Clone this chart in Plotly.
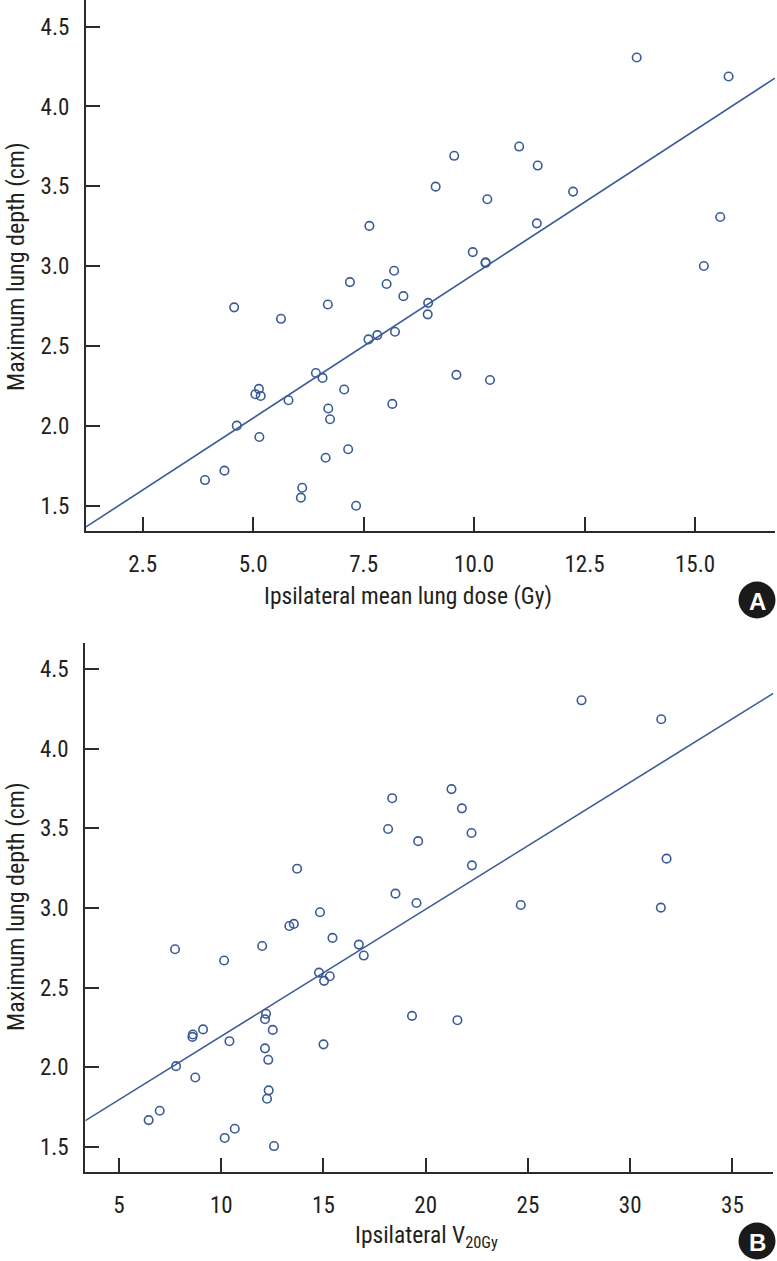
import plotly.graph_objects as go

# ---------------- data ----------------
# Panel A: ipsilateral mean lung dose (Gy) vs maximum lung depth (cm)
mld_gy = [13.68, 15.76, 11.02, 9.55, 11.44, 9.13, 12.24, 10.30, 15.57, 11.42,
          9.97, 10.26, 10.26, 15.20, 8.19, 8.02, 8.40, 8.96, 7.63, 7.19,
          4.57, 5.63, 6.69, 7.61, 7.81, 8.21, 6.42, 6.57, 7.06, 5.13,
          5.05, 5.17, 5.80, 6.70, 6.74, 8.15, 4.63, 5.14, 6.64, 7.15,
          3.91, 4.35, 6.11, 6.08, 7.33, 8.95, 9.60, 10.36]
depth_a = [4.307, 4.188, 3.749, 3.691, 3.630, 3.498, 3.467, 3.419, 3.308, 3.268,
           3.088, 3.024, 3.020, 3.001, 2.971, 2.888, 2.812, 2.770, 3.252, 2.900,
           2.742, 2.670, 2.760, 2.541, 2.568, 2.589, 2.331, 2.300, 2.227, 2.231,
           2.198, 2.187, 2.160, 2.108, 2.041, 2.137, 2.001, 1.930, 1.800, 1.853,
           1.660, 1.719, 1.612, 1.550, 1.499, 2.698, 2.319, 2.287]

# Panel B: ipsilateral V20Gy vs maximum lung depth (cm)
v20 = [27.62, 31.52, 21.26, 18.36, 21.77, 18.16, 22.24, 19.63, 31.78, 22.26,
       13.71, 18.52, 19.55, 24.65, 31.50, 14.83, 13.33, 13.55, 15.44, 7.74,
       12.00, 10.14, 16.73, 16.97, 14.78, 15.31, 15.03, 12.19, 12.14, 12.52,
       8.61, 8.59, 9.11, 10.40, 12.14, 12.30, 15.00, 7.79, 8.73, 12.32,
       12.24, 6.45, 6.99, 10.17, 10.66, 12.58, 19.33, 21.55]
depth_b = [4.305, 4.186, 3.747, 3.690, 3.626, 3.496, 3.471, 3.420, 3.310, 3.268,
           3.247, 3.090, 3.031, 3.019, 3.002, 2.973, 2.887, 2.900, 2.812, 2.741,
           2.761, 2.670, 2.770, 2.701, 2.594, 2.571, 2.542, 2.335, 2.301, 2.234,
           2.205, 2.190, 2.237, 2.163, 2.118, 2.046, 2.143, 2.006, 1.935, 1.854,
           1.801, 1.667, 1.726, 1.555, 1.613, 1.504, 2.322, 2.295]

# Regression lines (slope, intercept)
fit_a = (0.1803, 1.147)
fit_b = (0.0798, 1.396)

# Axis ranges and ticks
xrange_a = [1.217, 16.81]
xrange_b = [3.351, 37.0]
yrange = [1.341, 4.667]
xticks_a = [2.5, 5.0, 7.5, 10.0, 12.5, 15.0]
xticks_b = [5, 10, 15, 20, 25, 30, 35]
yticks = [1.5, 2.0, 2.5, 3.0, 3.5, 4.0, 4.5]

xtitle_a = "Ipsilateral mean lung dose (Gy)"
xtitle_b = "Ipsilateral V<sub>20Gy</sub>"
ytitle = "Maximum lung depth (cm)"

# ---------------- styling ----------------
W, H = 777, 1261
FONT = "Roboto Condensed, Liberation Sans Narrow, Arial Narrow, Liberation Sans, Arial, sans-serif"
BLUE = "#3b5b98"
AX = "#2b2b2b"
TXT = "#231f20"

fig = go.Figure()

marker = dict(symbol="circle-open", size=8.5, color=BLUE, line=dict(width=1.6, color=BLUE))

fig.add_trace(go.Scatter(x=mld_gy, y=depth_a, mode="markers", marker=marker,
                         xaxis="x", yaxis="y", showlegend=False, cliponaxis=False))
fig.add_trace(go.Scatter(x=xrange_a, y=[fit_a[0] * v + fit_a[1] for v in xrange_a],
                         mode="lines", line=dict(color=BLUE, width=1.6),
                         xaxis="x", yaxis="y", showlegend=False))
fig.add_trace(go.Scatter(x=v20, y=depth_b, mode="markers", marker=marker,
                         xaxis="x2", yaxis="y2", showlegend=False, cliponaxis=False))
fig.add_trace(go.Scatter(x=xrange_b, y=[fit_b[0] * v + fit_b[1] for v in xrange_b],
                         mode="lines", line=dict(color=BLUE, width=1.6),
                         xaxis="x2", yaxis="y2", showlegend=False))

def px_x(p):
    return p / W

def px_y(p):
    return 1 - p / H

common_x = dict(showline=True, linecolor=AX, linewidth=2, ticks="inside", ticklen=14,
                tickwidth=1.5, tickcolor=AX, showgrid=False, zeroline=False,
                tickfont=dict(family=FONT, size=23, color=TXT), ticklabelstandoff=11)
common_y = dict(showline=True, linecolor=AX, linewidth=2, ticks="inside", ticklen=14,
                tickwidth=1.5, tickcolor=AX, showgrid=False, zeroline=False,
                tickfont=dict(family=FONT, size=23, color=TXT), ticklabelstandoff=10,
                tickvals=yticks, ticktext=[f"{v:.1f}" for v in yticks])

fig.update_layout(
    width=W, height=H, margin=dict(l=0, r=0, t=0, b=0),
    paper_bgcolor="white", plot_bgcolor="white",
    xaxis=dict(domain=[px_x(86), px_x(775)], range=xrange_a, anchor="y",
               tickvals=xticks_a, ticktext=[f"{v:.1f}" for v in xticks_a], **common_x),
    yaxis=dict(domain=[px_y(531), 1.0], range=yrange, anchor="x", **common_y),
    xaxis2=dict(domain=[px_x(85.3), px_x(773.3)], range=xrange_b, anchor="y2",
                tickvals=xticks_b, ticktext=[str(v) for v in xticks_b], **common_x),
    yaxis2=dict(domain=[px_y(1172), px_y(642.7)], range=yrange, anchor="x2", **common_y),
)

ann_font = dict(family=FONT, size=23.5, color=TXT)
fig.add_annotation(text=xtitle_a, x=px_x(407.5), y=px_y(596), xref="paper", yref="paper",
                   showarrow=False, font=ann_font, xanchor="center", yanchor="middle")
fig.add_annotation(text=xtitle_b, x=px_x(426.7), y=px_y(1236), xref="paper", yref="paper",
                   showarrow=False, font=ann_font, xanchor="center", yanchor="middle")
fig.add_annotation(text=ytitle, x=0, y=px_y(267), xref="paper", yref="paper",
                   showarrow=False, font=dict(family=FONT, size=24, color=TXT),
                   textangle=-90, xanchor="left", yanchor="middle")
fig.add_annotation(text=ytitle, x=0, y=px_y(907), xref="paper", yref="paper",
                   showarrow=False, font=dict(family=FONT, size=24, color=TXT),
                   textangle=-90, xanchor="left", yanchor="middle")

# Panel badges
for label, cy in (("A", 600), ("B", 1241)):
    fig.add_shape(type="circle", xref="paper", yref="paper",
                  x0=px_x(738.5), x1=px_x(775.5), y0=px_y(cy + 18.5), y1=px_y(cy - 18.5),
                  fillcolor="#1a1a1a", line=dict(width=0))
    fig.add_annotation(text=f"<b>{label}</b>", x=px_x(757), y=px_y(cy + 1), xref="paper", yref="paper",
                       showarrow=False, xanchor="center", yanchor="middle",
                       font=dict(family="Liberation Sans, Arial, sans-serif", size=24, color="white"))

fig.write_html("out.html", config={"displayModeBar": False},
               post_script="document.body.style.margin='0';document.body.style.overflow='hidden';")
